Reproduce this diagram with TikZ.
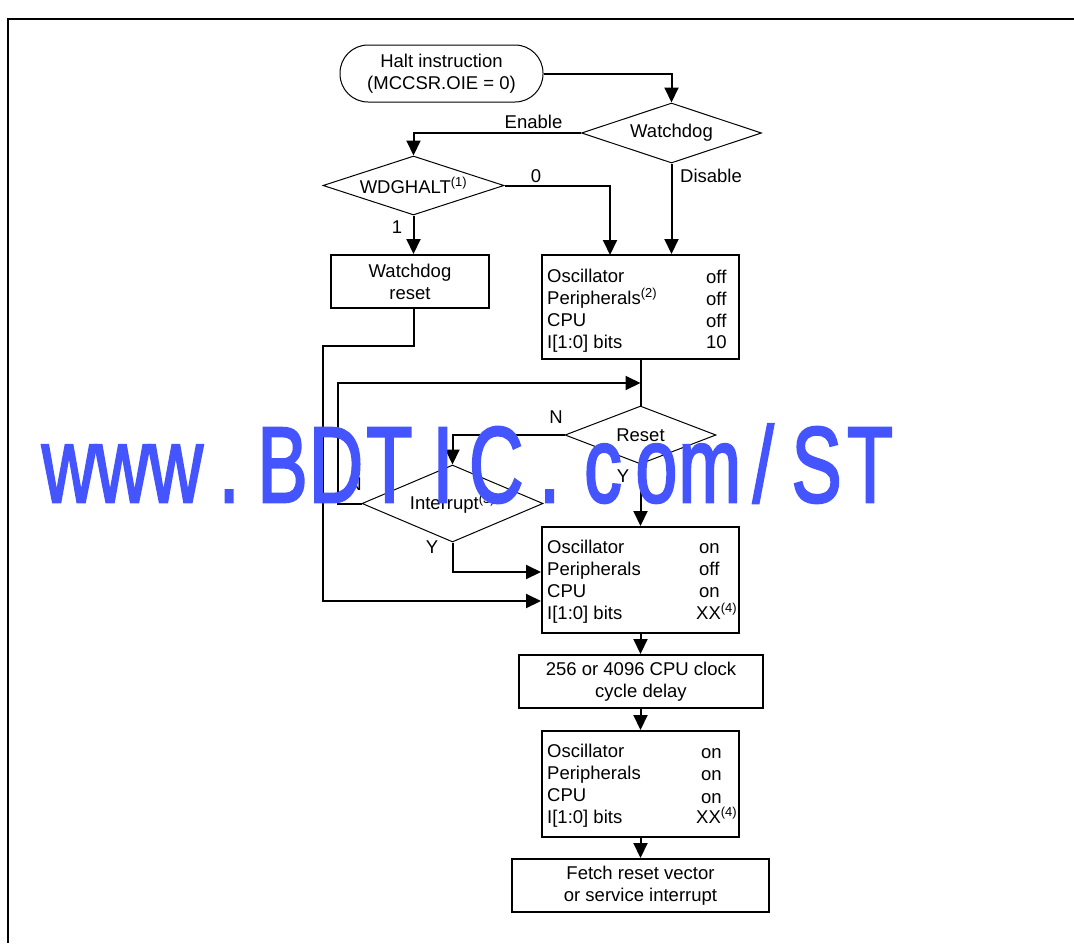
\documentclass[tikz,border=0pt]{standalone}
\usepackage{fontspec}
\setmainfont{Liberation Sans}
\newfontfamily\wmfont[FakeBold=2.5]{Liberation Sans}
\usetikzlibrary{shapes.geometric,arrows.meta}
\definecolor{wm}{RGB}{68,85,255}
\begin{document}
\begin{tikzpicture}[x=1pt,y=-1pt,
  font=\fontsize{18.5}{22}\selectfont,
  box/.style={draw,line width=2pt,inner sep=0pt},
  dec/.style={draw,diamond,line width=1pt,inner sep=0pt,aspect=3},
  conn/.style={line width=2pt},
  arr/.style={line width=2pt,-{Triangle[length=15pt,width=14pt]}},
  lbl/.style={anchor=base,inner sep=0pt},
  row/.style={anchor=base west,inner sep=0pt},
]
\useasboundingbox (0,0) rectangle (1074,943);
% frame
\draw[line width=2.5pt] (7,19) -- (1074,19);
\draw[line width=1.5pt] (8,19) -- (8,943);

% nodes
\node[draw,line width=1pt,rounded corners=28pt,minimum width=203pt,minimum height=57pt,align=center,inner sep=0pt] (start) at (441.5,73.5) {Halt instruction\\(MCCSR.OIE = 0)};
\node[dec,minimum width=180pt,minimum height=60pt] (wd) at (671.5,133) {Watchdog};
\node[dec,minimum width=181pt,minimum height=59pt] (wh) at (413.5,185.5) {WDGHALT\textsuperscript{(1)}};
\node[box,minimum width=158pt,minimum height=53pt,align=center] (wr) at (410,281.5) {Watchdog\\reset};
\node[box,minimum width=197pt,minimum height=104pt] (b1) at (640.5,307) {};
\node[dec,minimum width=151pt,minimum height=58pt] (rs) at (640.5,435) {Reset};
\node[dec,minimum width=181pt,minimum height=77pt] (it) at (452.5,503.5) {Interrupt\textsuperscript{(3)}};
\node[box,minimum width=197pt,minimum height=106pt] (b2) at (640.5,580) {};
\node[box,minimum width=244pt,minimum height=53pt,align=center] (dl) at (641,681.5) {256 or 4096 CPU clock\\cycle delay};
\node[box,minimum width=197pt,minimum height=106pt] (b3) at (640.5,784) {};
\node[box,minimum width=257pt,minimum height=53pt,align=center] (ft) at (640.5,885.5) {Fetch reset vector\\or service interrupt};

% box rows
\node[row] (b1a) at (547,282) {Oscillator};
\node[row] (b1b) at (547,304) {Peripherals\textsuperscript{(2)}};
\node[row] (b1c) at (547,326) {CPU};
\node[row] (b1d) at (547,348) {I[1:0] bits};
\node[row] (b1e) at (706,283) {off};
\node[row] (b1f) at (706,305) {off};
\node[row] (b1g) at (706,327) {off};
\node[row] (b1h) at (706,348) {10};

\node[row] (b2a) at (547,553) {Oscillator};
\node[row] (b2b) at (547,575) {Peripherals};
\node[row] (b2c) at (547,597) {CPU};
\node[row] (b2d) at (547,619) {I[1:0] bits};
\node[row] (b2e) at (699,553) {on};
\node[row] (b2f) at (699,575) {off};
\node[row] (b2g) at (699,597) {on};
\node[row] (b2h) at (696,619) {XX\textsuperscript{(4)}};

\node[row] (b3a) at (547,757) {Oscillator};
\node[row] (b3b) at (547,779) {Peripherals};
\node[row] (b3c) at (547,801) {CPU};
\node[row] (b3d) at (547,823) {I[1:0] bits};
\node[row] (b3e) at (701,758) {on};
\node[row] (b3f) at (701,780) {on};
\node[row] (b3g) at (701,803) {on};
\node[row] (b3h) at (696,823) {XX\textsuperscript{(4)}};

% labels
\node[lbl] (lEn) at (533.5,128) {Enable};
\node[lbl] (l0) at (536,182) {0};
\node[row] (lDis) at (680,182) {Disable};
\node[lbl] (l1) at (397,233) {1};
\node[lbl] (lN1) at (556,423) {N};
\node[lbl] (lY1) at (623,482) {Y};
\node[lbl] (lN2) at (355,490) {N};
\node[lbl] (lY2) at (432,553) {Y};

% helper coordinates
\coordinate (zin) at (610,255);
\coordinate (wA) at (323,346);
\coordinate (wB) at (323,601);
\coordinate (lA) at (338,383);
\coordinate (iA) at (0,572);

% connectors
\draw[arr] (start.east) -| (wd.north);
\draw[arr] (wd.west) -| (wh.north);
\draw[arr] (wh.east) -| (zin);
\draw[arr] (wd.south) -- (wd.south |- b1.north);
\draw[arr] (wh.south) -- (wh.south |- wr.north);
\draw[arr] (wh.south |- wr.south) |- (wA) -- (wB) -- (b2.west |- wB);
\draw[arr] (it.west) -| (lA) -- (b1.south |- lA);
\draw[conn] (b1.south) -- (rs.north);
\draw[arr] (rs.west) -| (it.north);
\draw[arr] (rs.south) -- (rs.south |- b2.north);
\draw[arr] (it.south) |- (b2.west |- iA);
\draw[arr] (b2.south) -- (b2.south |- dl.north);
\draw[arr] (b3.north |- dl.south) -- (b3.north);
\draw[arr] (b3.south) -- (ft.north);

% watermark
\foreach \c [count=\i from 0] in {w,w,w,.,B,D,T,I,C,.,c,o,m,/,S,T}
  \node[anchor=base,inner sep=0pt,text=wm,font=\wmfont\fontsize{107.5}{110}\selectfont] (wm\i) at (69+53.4*\i,502) {\scalebox{0.7}[1]{\c}};
\end{tikzpicture}
\end{document}
